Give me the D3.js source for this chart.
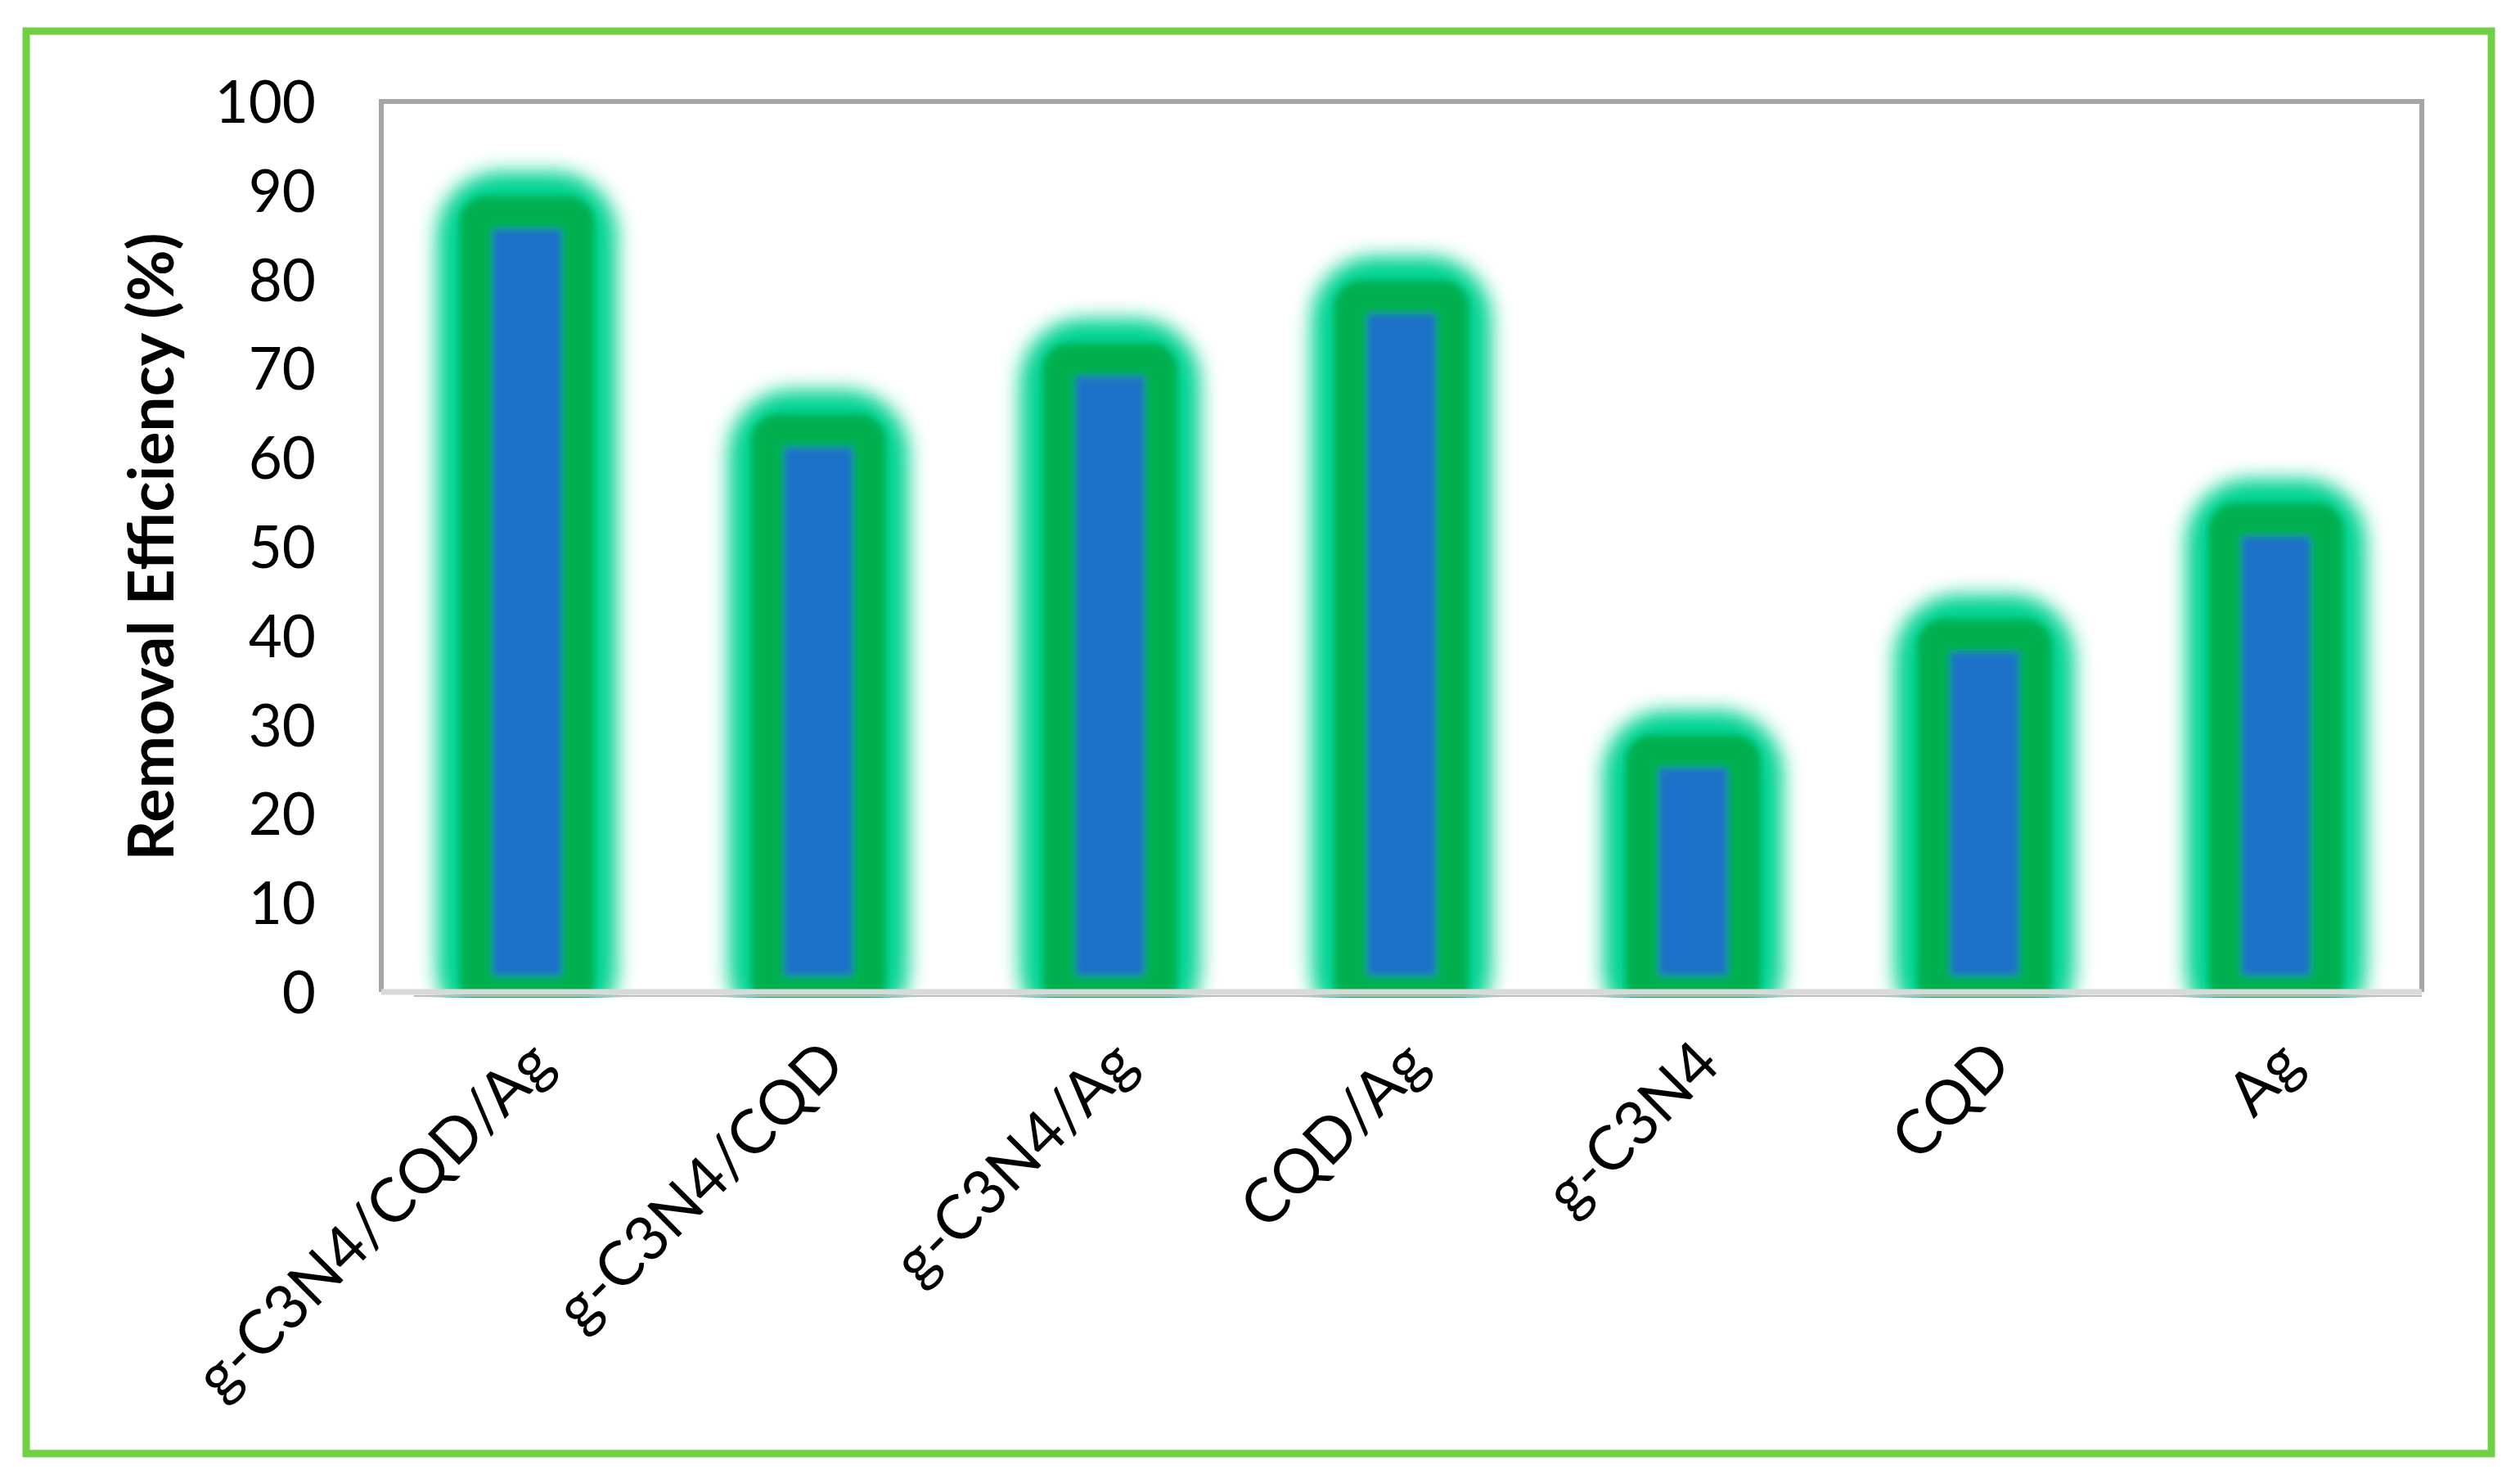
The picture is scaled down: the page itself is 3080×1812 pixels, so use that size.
<!DOCTYPE html>
<html>
<head>
<meta charset="utf-8">
<script src="https://cdn.jsdelivr.net/npm/d3@7"></script>
<style>
    body { margin: 0; background: #fff; }
    svg text { font-family: Lato, "Open Sans", sans-serif; fill: #000; }
</style>
</head>
<body>
<div id="chart"></div>
<script>
// data
var categories = ["g-C3N4/CQD/Ag", "g-C3N4/CQD", "g-C3N4/Ag", "CQD/Ag", "g-C3N4", "CQD", "Ag"];
var efficiency = [87.5, 63, 71, 78, 27, 40, 53];
var yTicks = [0, 10, 20, 30, 40, 50, 60, 70, 80, 90, 100];
var yTitle = "Removal Efficiency (%)";

var width = 3080, height = 1812;
var plot = {left: 466, right: 2960, top: 124, bottom: 1212};
var barW = 124;

var svg = d3.select("#chart").append("svg")
    .attr("width", width)
    .attr("height", height);

svg.append("rect")
    .attr("width", width)
    .attr("height", height)
    .attr("fill", "#fff");

var defs = svg.append("defs");
defs.append("filter").attr("id", "glow")
    .attr("x", "-50%").attr("y", "-50%").attr("width", "200%").attr("height", "200%")
    .append("feGaussianBlur").attr("stdDeviation", 12);
defs.append("filter").attr("id", "soft")
    .attr("x", "-20%").attr("y", "-20%").attr("width", "140%").attr("height", "140%")
    .append("feGaussianBlur").attr("stdDeviation", 4);
defs.append("clipPath").attr("id", "plotClip")
    .append("rect")
    .attr("x", plot.left)
    .attr("y", 0)
    .attr("width", plot.right - plot.left)
    .attr("height", plot.bottom + 7);

var x = d3.scaleBand()
    .domain(categories)
    .range([plot.left, plot.right]);

var y = d3.scaleLinear()
    .domain([0, 100])
    .range([plot.bottom, plot.top]);

var data = categories.map(function (c, i) {
    return {name: c, value: efficiency[i]};
});

// bars: soft teal glow, thick green border, blue fill
var bars = svg.append("g").attr("clip-path", "url(#plotClip)");

bars.selectAll(".glow")
    .data(data)
    .enter().append("rect")
    .attr("class", "glow")
    .attr("x", function (d) { return x(d.name) + x.bandwidth() / 2 - barW / 2 - 48; })
    .attr("y", function (d) { return y(d.value) - 50; })
    .attr("width", barW + 96)
    .attr("height", function (d) { return y(0) - y(d.value) + 100; })
    .attr("rx", 78)
    .attr("fill", "#00d391")
    .attr("filter", "url(#glow)");

bars.selectAll(".bar")
    .data(data)
    .enter().append("rect")
    .attr("class", "bar")
    .attr("x", function (d) { return x(d.name) + x.bandwidth() / 2 - barW / 2; })
    .attr("y", function (d) { return y(d.value); })
    .attr("width", barW)
    .attr("height", function (d) { return y(0) - y(d.value); })
    .attr("rx", 12)
    .attr("fill", "#1a71c9")
    .attr("stroke", "#00b04f")
    .attr("stroke-width", 40)
    .attr("stroke-linejoin", "round")
    .attr("filter", "url(#soft)");

// plot frame
svg.append("path")
    .attr("d", "M" + plot.left + "," + plot.bottom + "V" + plot.top + "H" + plot.right + "V" + plot.bottom)
    .attr("fill", "none")
    .attr("stroke", "#a6a6a6")
    .attr("stroke-width", 6);

svg.append("line")
    .attr("x1", plot.left + 40).attr("x2", plot.right)
    .attr("y1", plot.bottom + 5).attr("y2", plot.bottom + 5)
    .attr("stroke", "#bdbdbd")
    .attr("stroke-width", 2);

svg.append("line")
    .attr("x1", plot.left).attr("x2", plot.right)
    .attr("y1", plot.bottom).attr("y2", plot.bottom)
    .attr("stroke", "#d9d9d9")
    .attr("stroke-width", 7);

// y axis
var yAxis = svg.append("g")
    .attr("transform", "translate(" + plot.left + ",0)")
    .call(d3.axisLeft(y).tickValues(yTicks).tickSize(0).tickPadding(80));
yAxis.select(".domain").remove();
yAxis.selectAll("text")
    .attr("font-size", 71)
    .attr("font-family", "Lato, 'Open Sans', sans-serif")
    .attr("dy", "0.36em");

// x axis, labels at -45 degrees
var xAxis = svg.append("g")
    .attr("transform", "translate(0," + plot.bottom + ")")
    .call(d3.axisBottom(x).tickSize(0));
xAxis.select(".domain").remove();
xAxis.selectAll("text")
    .attr("font-size", 75)
    .attr("font-family", "Lato, 'Open Sans', sans-serif")
    .attr("text-anchor", "end")
    .attr("x", 0)
    .attr("y", 0)
    .attr("dy", 0)
    .attr("transform", "translate(36,92) rotate(-45)");

// y title
svg.append("text")
    .attr("transform", "translate(212," + ((plot.top + plot.bottom) / 2) + ") rotate(-90)")
    .attr("text-anchor", "middle")
    .attr("font-size", 77)
    .attr("font-weight", "bold")
    .text(yTitle);

// outer green border
svg.append("rect")
    .attr("x", 32)
    .attr("y", 38)
    .attr("width", 3013)
    .attr("height", 1738)
    .attr("fill", "none")
    .attr("stroke", "#70d044")
    .attr("stroke-width", 9);
</script>
</body>
</html>
